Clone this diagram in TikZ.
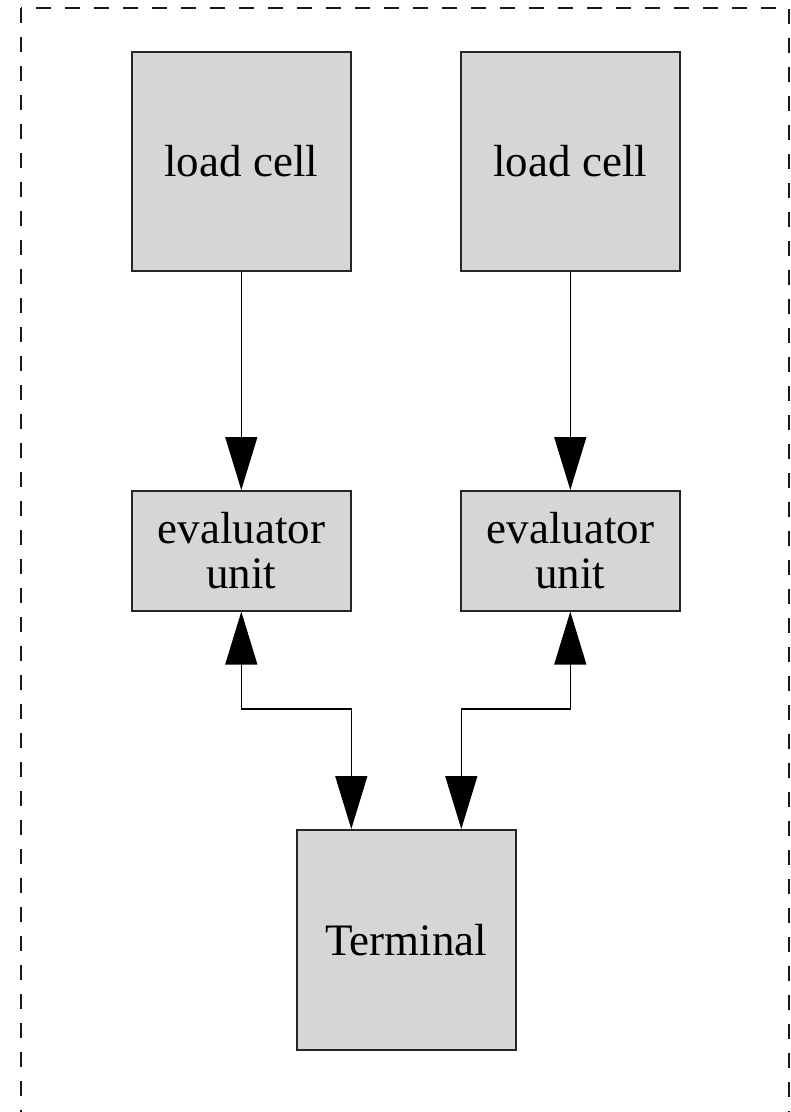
\documentclass[tikz,border=0pt]{standalone}
\usepackage{fontspec}
\setmainfont{Liberation Serif}
\usetikzlibrary{arrows.meta}
\definecolor{boxgray}{RGB}{214,214,214}
\begin{document}
\begin{tikzpicture}[x=1pt,y=-1pt,
  blk/.style={draw=black!85, line width=1.6pt, fill=boxgray, inner sep=0pt, anchor=north west,
    font=\fontsize{45}{45}\selectfont, align=center},
  conn/.style={line width=1.4pt, black, -{Triangle[length=53pt,width=32pt]}},
  biconn/.style={line width=1.4pt, black, {Triangle[length=53pt,width=32pt]}-{Triangle[length=53pt,width=32pt]}},
  frame/.style={draw=black!90, line width=1.4pt, dash pattern=on 15pt off 14pt}]
\useasboundingbox (0,0) rectangle (791,1112);
\clip (0,0) rectangle (791,1112);
\draw[frame] (21,8) rectangle (789,1140);
\node[blk, minimum width=219pt, minimum height=219pt] (lc1) at (131,51) {load cell};
\node[blk, minimum width=219pt, minimum height=219pt] (lc2) at (460,51) {load cell};
\node[blk, minimum width=219pt, minimum height=120pt] (ev1) at (131,490) {evaluator\\unit};
\node[blk, minimum width=219pt, minimum height=120pt] (ev2) at (460,490) {evaluator\\unit};
\node[blk, minimum width=219pt, minimum height=220pt] (term) at (296,829) {Terminal};
\coordinate (t1) at ([xshift=-55pt]term.north);
\coordinate (t2) at ([xshift=55pt]term.north);
\coordinate (j1) at (ev1.south |- 0,709);
\coordinate (j2) at (ev2.south |- 0,709);
\draw[conn] (lc1.south) -- (ev1.north);
\draw[conn] (lc2.south) -- (ev2.north);
\draw[biconn] (ev1.south) -- (j1) -| (t1);
\draw[biconn] (ev2.south) -- (j2) -| (t2);
\end{tikzpicture}
\end{document}
